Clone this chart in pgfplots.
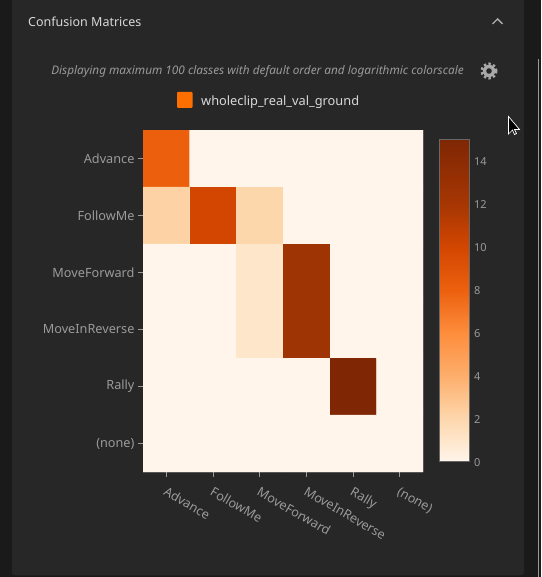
\documentclass[border=0pt]{standalone}
\usepackage{pgfplots}
\pgfplotsset{compat=1.18}
\usepackage{fontspec}
\setmainfont{Noto Sans}
\definecolor{outerbg}{HTML}{1A1A1A}
\definecolor{panelbg}{HTML}{272727}
\definecolor{txt}{HTML}{9A9A9A}
\definecolor{titlec}{HTML}{D8D8D8}
\definecolor{legendc}{RGB}{255,111,0}
\definecolor{cellzero}{RGB}{255,245,235}
\begin{document}
\begin{tikzpicture}[x=1pt,y=1pt]
\path[use as bounding box] (0,0) rectangle (541,577);
\clip (0,0) rectangle (541,577);
\fill[outerbg] (0,0) rectangle (541,577);
\fill[panelbg,rounded corners=3pt] (12,1.5) rectangle (524,590);
\draw[color=txt,line width=1pt] (538.5,0) -- (538.5,518);
\node[anchor=base west,text=titlec,font=\fontsize{12.5}{14}\selectfont,inner sep=0pt] at (28,550.5) {Confusion Matrices};
\draw[line width=1.4pt,color=titlec!80!black] (492.5,553) -- (497.5,558) -- (502.5,553);
\node[anchor=base east,text=txt,font=\fontsize{11.8}{13}\selectfont\itshape,inner sep=0pt] at (464,502.5) {Displaying maximum 100 classes with default order and logarithmic colorscale};
\fill[txt!85!white] (489,506) circle (6.2pt);
\draw[txt!85!white,line width=2.4pt,dash pattern=on 2.4pt off 2.4pt] (489,506) circle (7.3pt);
\fill[panelbg] (489,506) circle (2.8pt);
\fill[rounded corners=1pt,color=legendc] (177,469) rectangle (192.5,485);
\node[anchor=base west,text=titlec,font=\fontsize{12.8}{14}\selectfont,inner sep=0pt] at (201,471.5) {wholeclip\_real\_val\_ground};
\begin{axis}[
  at={(143pt,105pt)},anchor=south west,
  scale only axis,width=280pt,height=342pt,
  xmin=-0.5,xmax=5.5,ymin=-0.5,ymax=5.5,y dir=reverse,
  axis line style={draw=none},
  axis background/.style={fill=cellzero},
  tick align=outside,
  xtick pos=bottom,ytick pos=left,
  major tick length=5pt,
  every tick/.style={color=txt,line width=0.7pt},
  xtick={0,1,2,3,4,5},ytick={0,1,2,3,4,5},
  xticklabels={Advance,FollowMe,MoveForward,MoveInReverse,Rally,(none)},
  yticklabels={Advance,FollowMe,MoveForward,MoveInReverse,Rally,(none)},
  tick label style={color=txt,font=\fontsize{12.7}{14}\selectfont},
  x tick label style={rotate=-30,anchor=north west,xshift=2.3pt,yshift=-4pt},
  y tick label style={xshift=0pt},
  point meta min=0,point meta max=15,
  colormap={oranges}{
    rgb255(0pt)=(255,245,235);
    rgb255(2pt)=(253,215,172);
    rgb255(4pt)=(253,174,107);
    rgb255(6pt)=(253,141,60);
    rgb255(8pt)=(236,96,14);
    rgb255(10pt)=(210,70,1);
    rgb255(12pt)=(166,54,3);
    rgb255(15pt)=(127,39,4);
  },
  colorbar,
  colorbar/width=30pt,
  colorbar style={
    at={(parent axis.north east)},anchor=north west,xshift=8pt,yshift=-9.5pt,
    scale only axis,height=322pt,
    ymin=0,ymax=15,
    axis background/.style={},
    ytick={0,2,4,6,8,10,12,14},
    axis line style={draw=white!30!panelbg,line width=0.8pt},
    major tick length=0pt,
    yticklabel pos=right,
    yticklabel style={color=txt,font=\fontsize{11}{12}\selectfont,xshift=1pt,yshift=-1pt},
    /pgf/number format/assume math mode=true,
  },
]
\addplot[matrix plot*,shader=faceted,faceted color=mapped color,line width=0.3pt,mesh/cols=6,point meta=explicit] table[meta=v] {
x y v
0 0 8.1
1 0 0
2 0 0
3 0 0
4 0 0
5 0 0
0 1 2.2
1 1 10
2 1 2
3 1 0
4 1 0
5 1 0
0 2 0
1 2 0
2 2 1
3 2 12.6
4 2 0
5 2 0
0 3 0
1 3 0
2 3 1
3 3 12.6
4 3 0
5 3 0
0 4 0
1 4 0
2 4 0
3 4 0
4 4 15
5 4 0
0 5 0
1 5 0
2 5 0
3 5 0
4 5 0
5 5 0
};
\end{axis}
\filldraw[fill=black,draw=white,line width=0.7pt] (508.5,460.5) -- (508.5,443) -- (512.5,447) -- (514.5,442.5) -- (516.5,443.5) -- (514.5,447.5) -- (519.5,447.5) -- cycle;
\end{tikzpicture}
\end{document}
